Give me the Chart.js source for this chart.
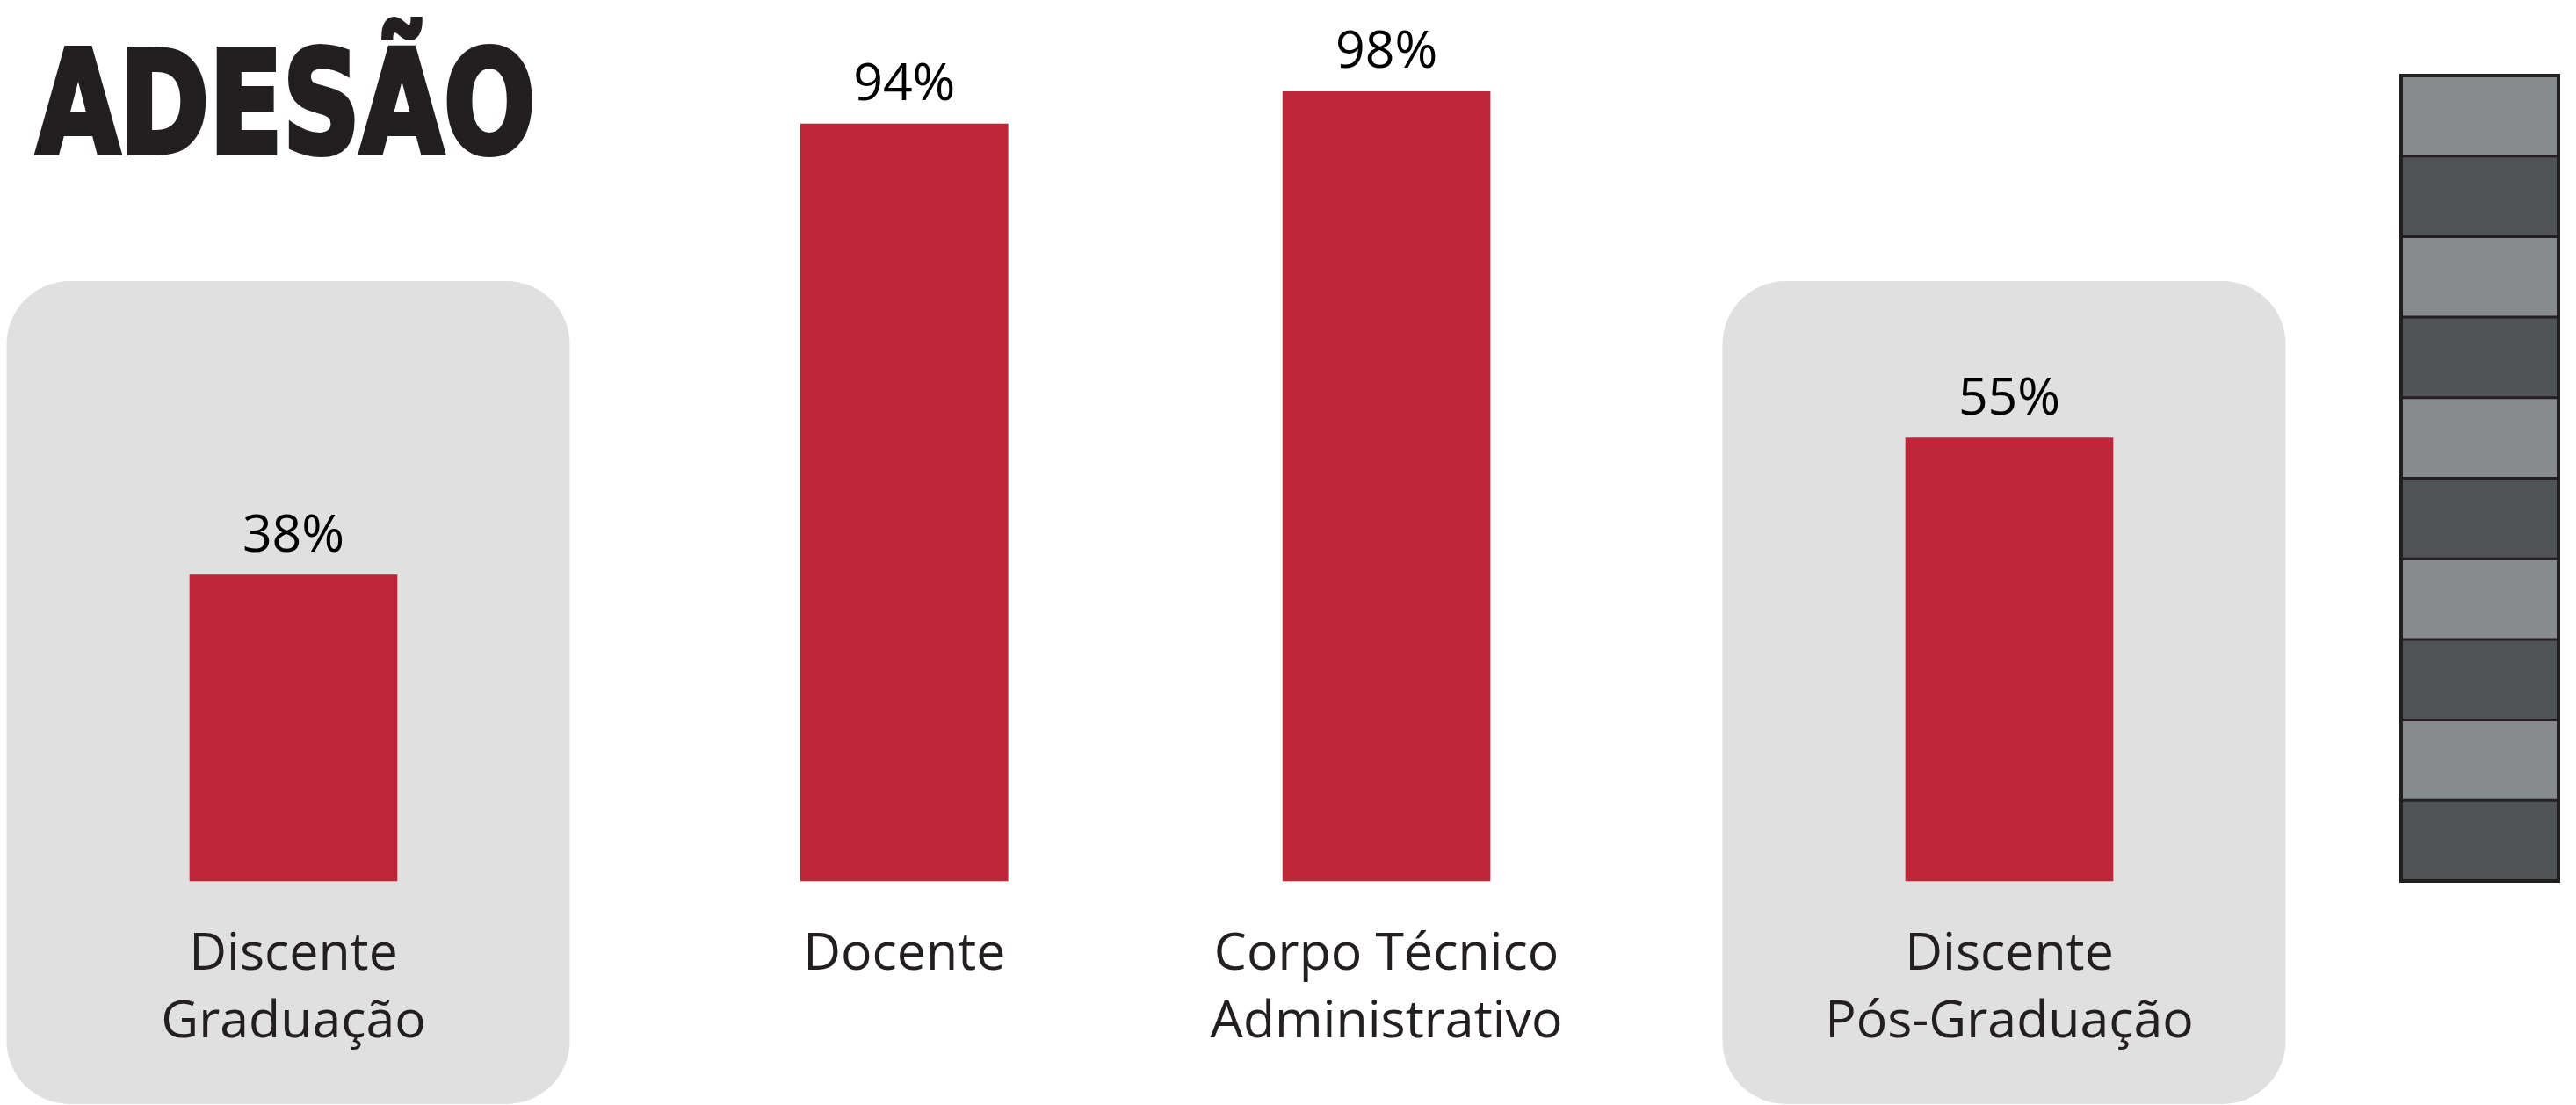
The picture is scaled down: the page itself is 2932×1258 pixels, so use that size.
<!DOCTYPE html>
<html lang="pt-BR">
<head>
<meta charset="utf-8">
<title>Adesão</title>
<script src="https://cdn.jsdelivr.net/npm/chart.js@4/dist/chart.umd.min.js"></script>
<style>
    html, body { margin: 0; padding: 0; background: #ffffff; }
    .chart-wrap { position: relative; width: 2932px; height: 1258px; }
</style>
</head>
<body>
<div class="chart-wrap">
    <canvas id="adesaoChart"></canvas>
</div>
<script>
// Data
const categories = [
    ['Discente', 'Graduação'],
    ['Docente'],
    ['Corpo Técnico', 'Administrativo'],
    ['Discente', 'Pós-Graduação']
];
const adesao = [38, 94, 98, 55];
const gaugeSteps = [0, 10, 20, 30, 40, 50, 60, 70, 80, 90, 100];
const titleText = 'ADESÃO';

// Layout and colours
const RED = '#be2539';
const INK = '#231f20';
const PANEL_GRAY = '#dfe0df';
const STRIPE_LIGHT = '#878b8e';
const STRIPE_DARK = '#4f5356';
const FONT = '"Open Sans", "Noto Sans", sans-serif';
const FONT_SIZE = 59;

const columnStops = [0, 0.356, 0.637, 1];   // where each column sits across the plot
const panelColumns = [0, 3];                 // student columns get a grey card
const PANEL = { width: 641, shift: -6, top: 320, bottom: 1257, radius: 72 };
const GAUGE = { left: 2733, right: 2912 };
const TITLE = { left: 39, right: 606, baseline: 177, capHeight: 125, stroke: 6 };

// Category scale with uneven column spacing
class PanelScale extends Chart.CategoryScale {
    getPixelForValue(value) {
        if (typeof value !== 'number') {
            value = this.parse(value);
        }
        const stops = this.options.stops;
        return this.getPixelForDecimal(stops[value]);
    }
}
PanelScale.id = 'panel';
PanelScale.defaults = {};
Chart.register(PanelScale);

function drawTitle(ctx) {
    const family = '"Liberation Sans Narrow", "DejaVu Sans Condensed", "DejaVu Sans", sans-serif';
    ctx.save();
    ctx.font = `bold 100px ${family}`;
    const capAt100 = ctx.measureText('H').actualBoundingBoxAscent;
    const size = 100 * (TITLE.capHeight - TITLE.stroke) / capAt100;
    ctx.font = `bold ${size}px ${family}`;
    const m = ctx.measureText(titleText);
    const inkWidth = m.actualBoundingBoxLeft + m.actualBoundingBoxRight + TITLE.stroke;
    const sx = (TITLE.right - TITLE.left) / inkWidth;
    ctx.translate(TITLE.left, TITLE.baseline - TITLE.stroke / 2);
    ctx.scale(sx, 1);
    ctx.translate(m.actualBoundingBoxLeft + TITLE.stroke / 2, 0);
    ctx.fillStyle = INK;
    ctx.strokeStyle = INK;
    ctx.lineWidth = TITLE.stroke;
    ctx.lineJoin = 'miter';
    ctx.textBaseline = 'alphabetic';
    ctx.textAlign = 'left';
    ctx.fillText(titleText, 0, 0);
    ctx.strokeText(titleText, 0, 0);
    ctx.restore();
}

function drawPanels(chart) {
    const { ctx } = chart;
    const bars = chart.getDatasetMeta(0).data;
    ctx.save();
    ctx.fillStyle = PANEL_GRAY;
    panelColumns.forEach(i => {
        const left = bars[i].x - PANEL.width / 2 + PANEL.shift;
        ctx.beginPath();
        ctx.roundRect(left, PANEL.top, PANEL.width, PANEL.bottom - PANEL.top, PANEL.radius);
        ctx.fill();
    });
    ctx.restore();
}

// 0-100% gauge in 10% steps, light and dark bands
function drawGauge(chart) {
    const { ctx } = chart;
    const y = chart.scales.y;
    const w = GAUGE.right - GAUGE.left;
    ctx.save();
    for (let i = 0; i < gaugeSteps.length - 1; i++) {
        const top = y.getPixelForValue(gaugeSteps[i + 1]);
        const bottom = y.getPixelForValue(gaugeSteps[i]);
        ctx.fillStyle = i % 2 === 1 ? STRIPE_LIGHT : STRIPE_DARK;
        ctx.fillRect(GAUGE.left, top, w, bottom - top);
    }
    ctx.strokeStyle = INK;
    ctx.lineWidth = 3;
    for (let i = 1; i < gaugeSteps.length - 1; i++) {
        const py = y.getPixelForValue(gaugeSteps[i]);
        ctx.beginPath();
        ctx.moveTo(GAUGE.left, py);
        ctx.lineTo(GAUGE.right, py);
        ctx.stroke();
    }
    const top = y.getPixelForValue(gaugeSteps[gaugeSteps.length - 1]);
    const bottom = y.getPixelForValue(gaugeSteps[0]);
    ctx.lineWidth = 4;
    ctx.strokeRect(GAUGE.left, top, w, bottom - top);
    ctx.restore();
}

const backdropPlugin = {
    id: 'backdrop',
    beforeDraw(chart) {
        drawPanels(chart);
        drawGauge(chart);
        drawTitle(chart.ctx);
    }
};

// Percentage above each bar
const valueLabelPlugin = {
    id: 'valueLabels',
    afterDatasetsDraw(chart) {
        const { ctx } = chart;
        const bars = chart.getDatasetMeta(0).data;
        ctx.save();
        ctx.font = `${FONT_SIZE}px ${FONT}`;
        ctx.fillStyle = '#000000';
        ctx.textAlign = 'center';
        ctx.textBaseline = 'alphabetic';
        bars.forEach((bar, i) => {
            ctx.fillText(adesao[i] + '%', bar.x, bar.y - 27);
        });
        ctx.restore();
    }
};

document.addEventListener('DOMContentLoaded', () => {
    const ctx = document.getElementById('adesaoChart').getContext('2d');

    new Chart(ctx, {
        type: 'bar',
        data: {
            labels: categories,
            datasets: [{
                label: 'Adesão (%)',
                data: adesao,
                backgroundColor: RED,
                borderWidth: 0,
                barThickness: 236,
                clip: false   // outer columns sit on the plot edges
            }]
        },
        options: {
            responsive: true,
            maintainAspectRatio: false,
            animation: false,
            layout: {
                padding: { left: 334, right: 645, top: 86, bottom: 0 }
            },
            plugins: {
                legend: { display: false },
                tooltip: { enabled: false }
            },
            scales: {
                x: {
                    type: 'panel',
                    stops: columnStops,
                    offset: false,
                    grid: { display: false, drawTicks: false },
                    border: { display: false },
                    afterFit: scale => { scale.height = 255; },
                    ticks: {
                        autoSkip: false,
                        maxRotation: 0,
                        minRotation: 0,
                        padding: 46,
                        color: INK,
                        font: { family: FONT, size: FONT_SIZE, lineHeight: 77 / FONT_SIZE }
                    }
                },
                y: {
                    display: false,
                    min: 0,
                    max: 100
                }
            }
        },
        plugins: [backdropPlugin, valueLabelPlugin]
    });
});
</script>
</body>
</html>
